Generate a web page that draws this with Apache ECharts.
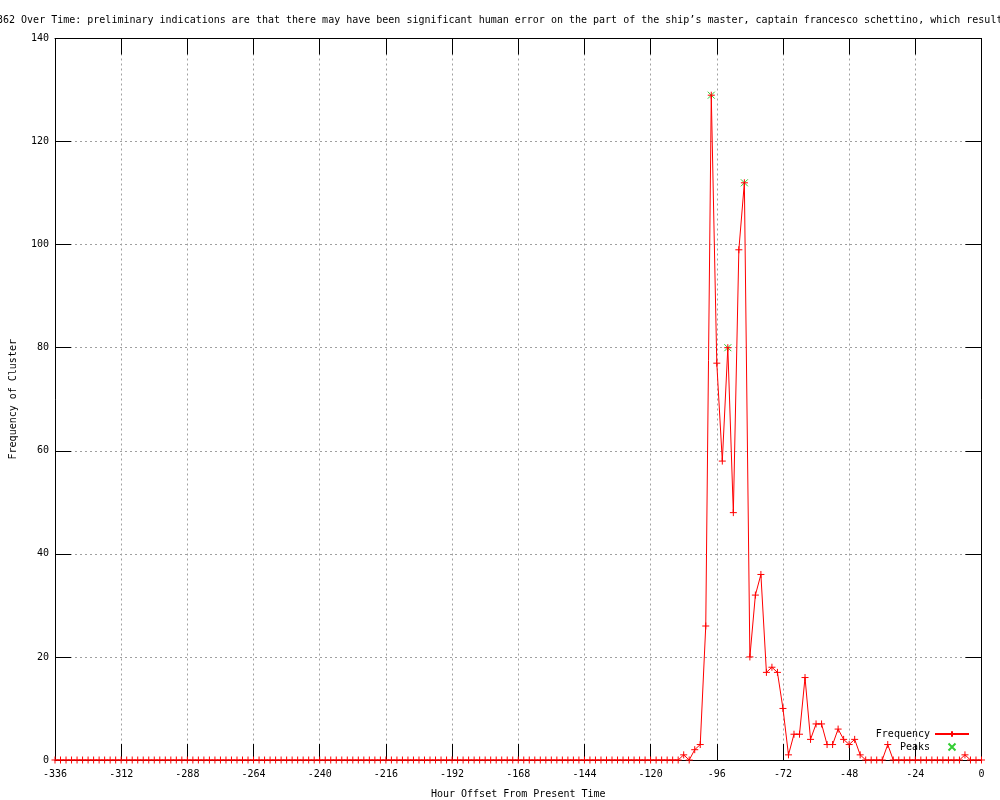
<!DOCTYPE html>
<html>
<head>
<meta charset="utf-8">
<script src="https://cdn.jsdelivr.net/npm/echarts@6.0.0/dist/echarts.min.js"></script>
<style>html,body{margin:0;padding:0;background:#fff}#c{width:1000px;height:800px}</style>
</head>
<body>
<div id="c"></div>
<script>
// Hour offsets (x) and cluster frequency (y)
var hours = [
  -336,-334,-332,-330,-328,-326,-324,-322,-320,-318,-316,-314,
  -312,-310,-308,-306,-304,-302,-300,-298,-296,-294,-292,-290,
  -288,-286,-284,-282,-280,-278,-276,-274,-272,-270,-268,-266,
  -264,-262,-260,-258,-256,-254,-252,-250,-248,-246,-244,-242,
  -240,-238,-236,-234,-232,-230,-228,-226,-224,-222,-220,-218,
  -216,-214,-212,-210,-208,-206,-204,-202,-200,-198,-196,-194,
  -192,-190,-188,-186,-184,-182,-180,-178,-176,-174,-172,-170,
  -168,-166,-164,-162,-160,-158,-156,-154,-152,-150,-148,-146,
  -144,-142,-140,-138,-136,-134,-132,-130,-128,-126,-124,-122,
  -120,-118,-116,-114,-112,-110,-108,-106,-104,-102,-100,-98,
  -96,-94,-92,-90,-88,-86,-84,-82,-80,-78,-76,-74,
  -72,-70,-68,-66,-64,-62,-60,-58,-56,-54,-52,-50,
  -48,-46,-44,-42,-40,-38,-36,-34,-32,-30,-28,-26,
  -24,-22,-20,-18,-16,-14,-12,-10,-8,-6,-4,-2,
  0
];
var frequency = [
  0,0,0,0,0,0,0,0,0,0,0,0,
  0,0,0,0,0,0,0,0,0,0,0,0,
  0,0,0,0,0,0,0,0,0,0,0,0,
  0,0,0,0,0,0,0,0,0,0,0,0,
  0,0,0,0,0,0,0,0,0,0,0,0,
  0,0,0,0,0,0,0,0,0,0,0,0,
  0,0,0,0,0,0,0,0,0,0,0,0,
  0,0,0,0,0,0,0,0,0,0,0,0,
  0,0,0,0,0,0,0,0,0,0,0,0,
  0,0,0,0,0,0,1,0,2,3,26,129,
  77,58,80,48,99,112,20,32,36,17,18,17,
  10,1,5,5,16,4,7,7,3,3,6,4,
  3,4,1,0,0,0,0,3,0,0,0,0,
  0,0,0,0,0,0,0,0,0,1,0,0,
  0
];
var peakHours = [-98, -92, -86];
var peakValues = [129, 80, 112];

var xTicks = {min: -336, max: 0, interval: 24};
var yTicks = {min: 0, max: 140, interval: 20};

var titleText = "362 Over Time: preliminary indications are that there may have been significant human error on the part of the ship\u2019s master, captain francesco schettino, which result";
var xName = "Hour Offset From Present Time";
var yName = "Frequency of Cluster";

var FONT = "DejaVu Sans Mono";
var plusPath = "path://M-1,0L1,0M0,-1L0,1";
var crossPath = "path://M-1,-1L1,1M-1,1L1,-1";

var freqData = hours.map(function (h, i) { return [h, frequency[i]]; });
var peakData = peakHours.map(function (h, i) { return [h, peakValues[i]]; });

var chart = echarts.init(document.getElementById('c'), null, {renderer: 'canvas'});

function axisBase(extra) {
  var o = {
    axisLine: {show: true, onZero: false, lineStyle: {color: '#000', width: 1}},
    axisTick: {show: true, inside: true, length: 16, lineStyle: {color: '#000', width: 1}},
    axisLabel: {show: true, color: '#000', fontFamily: FONT, fontSize: 10},
    splitLine: {show: false}
  };
  for (var k in extra) o[k] = extra[k];
  return o;
}

var option = {
  animation: false,
  backgroundColor: '#fff',
  textStyle: {fontFamily: FONT},
  title: {
    text: titleText,
    left: -8, top: 9,
    textStyle: {fontFamily: FONT, fontSize: 10, fontWeight: 'normal', color: '#000', lineHeight: 12}
  },
  grid: {left: 55, right: 18.5, top: 38.5, bottom: 40, containLabel: false, outerBoundsMode: 'none'},
  legend: {
    orient: 'vertical', right: 30, top: 729, padding: 0,
    align: 'right', itemWidth: 34, itemHeight: 7, itemGap: 3,
    textStyle: {fontFamily: FONT, fontSize: 10, color: '#000'},
    data: ['Frequency', 'Peaks']
  },
  xAxis: [
    axisBase({
      type: 'value', position: 'bottom', min: xTicks.min, max: xTicks.max, interval: xTicks.interval,
      name: xName, nameLocation: 'middle', nameGap: 29,
      nameTextStyle: {fontFamily: FONT, fontSize: 10, color: '#000'},
      axisLabel: {show: true, color: '#000', fontFamily: FONT, fontSize: 10, margin: 9},
      splitLine: {show: true, lineStyle: {color: '#a0a0a0', width: 1, type: [2, 3]}}
    }),
    axisBase({
      type: 'value', position: 'top', min: xTicks.min, max: xTicks.max, interval: xTicks.interval,
      axisLabel: {show: false}
    })
  ],
  yAxis: [
    axisBase({
      type: 'value', position: 'left', min: yTicks.min, max: yTicks.max, interval: yTicks.interval,
      name: yName, nameLocation: 'middle', nameGap: 36.5, nameRotate: 90,
      nameTextStyle: {fontFamily: FONT, fontSize: 10, color: '#000'},
      axisLabel: {show: true, color: '#000', fontFamily: FONT, fontSize: 10, margin: 6},
      splitLine: {show: true, lineStyle: {color: '#a0a0a0', width: 1, type: [2, 3]}}
    }),
    axisBase({
      type: 'value', position: 'right', min: yTicks.min, max: yTicks.max, interval: yTicks.interval,
      axisLabel: {show: false}
    })
  ],
  series: [
    {
      name: 'Frequency', type: 'line', data: freqData,
      xAxisIndex: 0, yAxisIndex: 0,
      symbol: plusPath, symbolSize: 7, showSymbol: true, showAllSymbol: true,
      lineStyle: {color: '#ff0000', width: 1},
      itemStyle: {color: '#ff0000', borderColor: '#ff0000', borderWidth: 1},
      clip: false, z: 3
    },
    {
      name: 'Peaks', type: 'scatter', data: peakData,
      xAxisIndex: 0, yAxisIndex: 0,
      symbol: crossPath, symbolSize: 7, symbolKeepAspect: true,
      itemStyle: {color: '#00c000', borderColor: '#00c000', borderWidth: 1},
      z: 2
    }
  ]
};
chart.setOption(option);
</script>
</body>
</html>
